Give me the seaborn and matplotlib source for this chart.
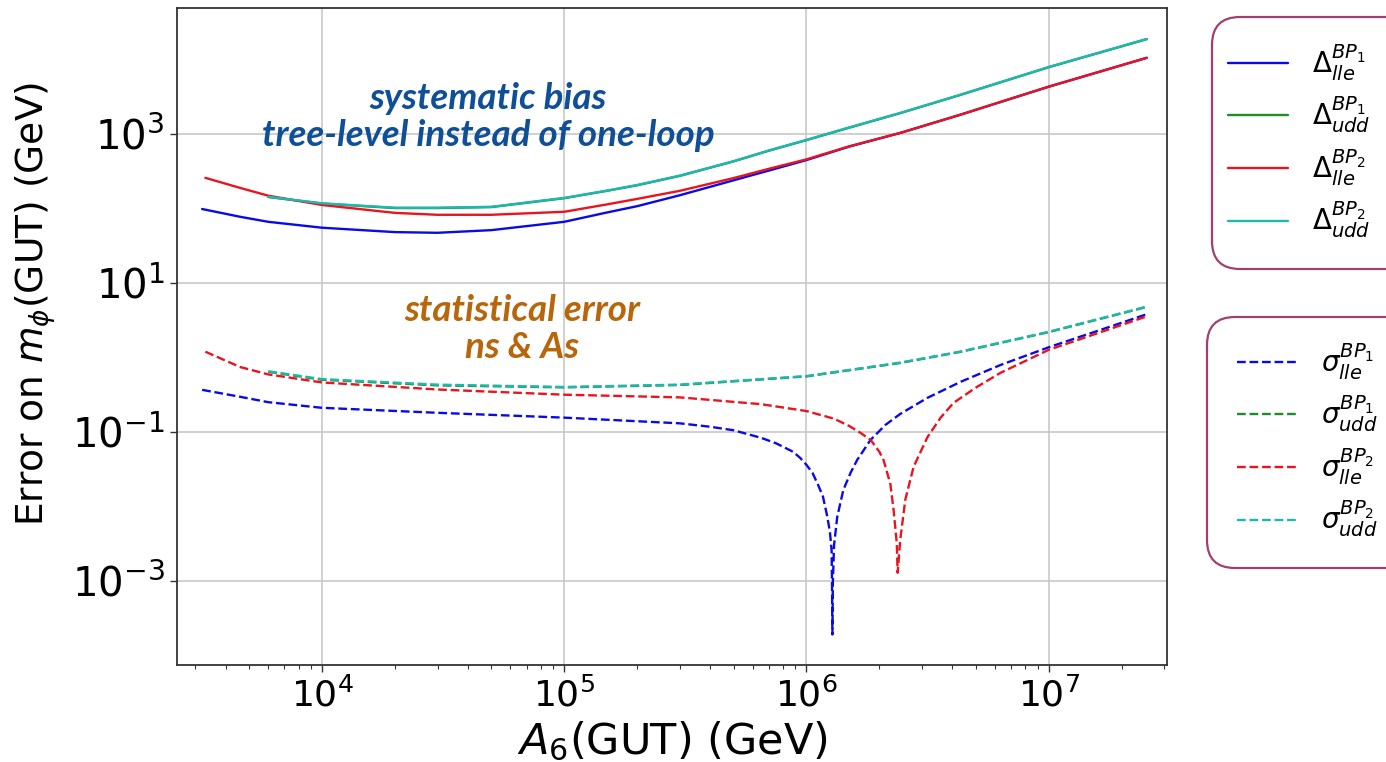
import numpy as np
import pandas as pd
import matplotlib
matplotlib.use("Agg")
import matplotlib.pyplot as plt
import matplotlib.ticker as mticker
from matplotlib.patches import FancyBboxPatch
from matplotlib.transforms import IdentityTransform
import seaborn as sns

# ---------------- data ----------------
# systematic bias (solid)
x_d_lle1 = [3.2e3, 4.6e3, 6e3, 1e4, 2e4, 3e4, 5e4, 1e5, 1.5e5, 2e5, 3e5, 5e5, 7e5, 1e6, 1.5e6,
            2.44e6, 4.3e6, 1e7, 2.54e7]
y_d_lle1 = [98, 77, 66, 55, 48, 47, 51, 66, 88, 107, 150, 238, 322, 445, 675,
            1030, 1800, 4300, 10500]

x_d_lle2 = [3.3e3, 4.6e3, 6e3, 1e4, 2e4, 3e4, 5e4, 1e5, 1.5e5, 2e5, 3e5, 5e5, 7e5, 1e6, 1.5e6,
            2.44e6, 4.3e6, 1e7, 2.54e7]
y_d_lle2 = [257, 188, 148, 111, 87, 82, 82, 90, 113, 134, 172, 255, 340, 455, 680,
            1030, 1800, 4300, 10500]

x_d_udd = [6e3, 1e4, 2e4, 3e4, 5e4, 1e5, 1.5e5, 2e5, 3e5, 5e5, 7e5, 1e6, 1.5e6, 2.44e6, 4.3e6,
           1e7, 2.54e7]
y_d_udd1 = [142, 116, 101, 101, 104, 137, 172, 204, 273, 427, 595, 825, 1210, 1900, 3320,
            7850, 18700]
y_d_udd2 = [143, 117, 102, 102, 105, 138, 173, 206, 275, 430, 600, 830, 1220, 1910, 3340,
            7900, 18800]

# statistical error (dashed)
x_s_lle1 = [3.2e3, 4.6e3, 6e3, 1e4, 3e4, 1e5, 3e5, 4e5, 5e5, 6.5e5, 7.5e5, 8.8e5, 9.4e5, 1.0e6,
            1.06e6, 1.12e6, 1.17e6, 1.22e6, 1.25e6, 1.27e6, 1.275e6, 1.28e6, 1.285e6, 1.3e6,
            1.34e6, 1.42e6, 1.52e6, 1.62e6, 1.84e6, 2.12e6, 2.44e6, 3.16e6, 4.33e6, 6.33e6,
            1.01e7, 1.64e7, 2.57e7]
y_s_lle1 = [0.366, 0.295, 0.25, 0.21, 0.18, 0.155, 0.13, 0.117, 0.105, 0.083, 0.07, 0.054, 0.045,
            0.036, 0.028, 0.019, 0.0135, 0.0072, 0.0045, 0.0026, 0.00094, 0.00019, 0.0009, 0.003,
            0.0072, 0.0166, 0.028, 0.042, 0.078, 0.124, 0.174, 0.286, 0.469, 0.79,
            1.38, 2.34, 3.84]

x_s_lle2 = [3.3e3, 4.6e3, 6e3, 1e4, 3e4, 1e5, 3e5, 6.5e5, 1e6, 1.3e6, 1.5e6, 1.67e6, 1.84e6,
            2.0e6, 2.08e6, 2.22e6, 2.29e6, 2.36e6, 2.38e6, 2.44e6, 2.56e6, 2.77e6, 3.16e6,
            3.58e6, 4.05e6, 4.99e6, 6.33e6, 1.0e7, 1.64e7, 2.57e7]
y_s_lle2 = [1.19, 0.74, 0.59, 0.46, 0.37, 0.315, 0.29, 0.235, 0.19, 0.15, 0.12, 0.097, 0.078,
            0.054, 0.042, 0.02, 0.0089, 0.0032, 0.00128, 0.0036, 0.0123, 0.034, 0.085,
            0.155, 0.245, 0.39, 0.62, 1.26, 2.18, 3.6]

x_s_udd = [6e3, 1e4, 3e4, 1e5, 3e5, 1e6, 2.44e6, 4.3e6, 1e7, 2.54e7]
y_s_udd1 = [0.64, 0.50, 0.42, 0.395, 0.425, 0.555, 0.84, 1.18, 2.18, 4.75]
y_s_udd2 = [0.65, 0.51, 0.43, 0.40, 0.43, 0.56, 0.85, 1.19, 2.2, 4.8]

delta_labels = [r'$\Delta_{lle}^{BP_1}$', r'$\Delta_{udd}^{BP_1}$',
                r'$\Delta_{lle}^{BP_2}$', r'$\Delta_{udd}^{BP_2}$']
sigma_labels = [r'$\sigma_{lle}^{BP_1}$', r'$\sigma_{udd}^{BP_1}$',
                r'$\sigma_{lle}^{BP_2}$', r'$\sigma_{udd}^{BP_2}$']
colors = ['#0a0ae6', '#1e8c28', '#e8141e', '#1fb8b0']

# ---------------- figure ----------------
sns.set_theme(style="whitegrid")
plt.rcParams['font.family'] = ['DejaVu Sans']
plt.rcParams['mathtext.fontset'] = 'dejavusans'
for k in ['text.color', 'axes.labelcolor', 'xtick.color', 'ytick.color']:
    plt.rcParams[k] = 'black'

fig = plt.figure(figsize=(13.86, 7.62), dpi=100)
ax = fig.add_axes([0.1277, 0.1273, 0.7143, 0.8622])

solid = [(x_d_lle1, y_d_lle1), (x_d_udd, y_d_udd1), (x_d_lle2, y_d_lle2), (x_d_udd, y_d_udd2)]
dashed = [(x_s_lle1, y_s_lle1), (x_s_udd, y_s_udd1), (x_s_lle2, y_s_lle2), (x_s_udd, y_s_udd2)]

solid_handles = []
for (xs, ys), c, lab in zip(solid, colors, delta_labels):
    sns.lineplot(x=xs, y=ys, ax=ax, color=c, lw=1.7, label=lab, legend=False)
    solid_handles.append(ax.get_lines()[-1])
dashed_handles = []
for (xs, ys), c, lab in zip(dashed, colors, sigma_labels):
    sns.lineplot(x=xs, y=ys, ax=ax, color=c, lw=1.7, linestyle='--', label=lab, legend=False)
    dashed_handles.append(ax.get_lines()[-1])

ax.set_xscale('log')
ax.set_yscale('log')
ax.set_xlim(2.52e3, 3.08e7)
ax.set_ylim(7.4e-5, 4.9e4)
ax.set_yticks([1e-3, 1e-1, 1e1, 1e3])
ax.yaxis.set_minor_locator(mticker.NullLocator())
ax.xaxis.set_major_locator(mticker.LogLocator(base=10, numticks=12))
ax.xaxis.set_minor_locator(mticker.LogLocator(base=10, subs=np.arange(2, 10), numticks=12))
ax.xaxis.set_minor_formatter(mticker.NullFormatter())

ax.grid(True, which='major', color='#c4c4c4', lw=1.1)
ax.grid(False, which='minor')
for s in ax.spines.values():
    s.set_color('#333333')
    s.set_linewidth(1.3)
ax.tick_params(axis='both', which='major', length=5, width=1, color='#333333',
               bottom=True, left=True, pad=4)
ax.tick_params(axis='x', which='major', labelsize=26)
ax.tick_params(axis='y', which='major', labelsize=29)
ax.tick_params(axis='x', which='minor', length=3, width=0.8, color='#333333', bottom=True)

ax.set_xlabel(r'$A_6$(GUT) (GeV)', fontsize=31)
ax.set_ylabel(r'Error on $m_\phi$(GUT) (GeV)', fontsize=27)
ax.xaxis.set_label_coords(0.5, -0.083)
ax.yaxis.set_label_coords(-0.12, 0.55)

ax.text(0.314, 0.834, 'systematic bias\ntree-level instead of one-loop', transform=ax.transAxes,
        ha='center', va='center', fontsize=26.5, fontfamily='Lato', fontweight='bold',
        fontstyle='italic', color='#0f4f97', linespacing=1.15)
ax.text(0.3485, 0.511, 'statistical error\nns & As', transform=ax.transAxes,
        ha='center', va='center', fontsize=26.5, fontfamily='Lato', fontweight='bold',
        fontstyle='italic', color='#b8660b', linespacing=1.15)

# legends outside the axes
leg_kw = dict(loc='center left', frameon=False, fontsize=20, handlelength=2.16,
              handletextpad=0.86, labelspacing=0.42, borderpad=0, borderaxespad=0)
leg1 = fig.legend(handles=solid_handles, labels=delta_labels,
                  bbox_to_anchor=(1228 / 1386, 1 - 141 / 762), **leg_kw)
leg2 = fig.legend(handles=dashed_handles, labels=sigma_labels,
                  bbox_to_anchor=(1237 / 1386, 1 - 440 / 762), **leg_kw)

H = 762
for (x0, ytop, ybot) in [(1212, 17, 269), (1207, 317, 568)]:
    box = FancyBboxPatch((x0, H - ybot), 1430 - x0, ybot - ytop,
                         boxstyle='round,pad=0,rounding_size=28',
                         transform=IdentityTransform(), fill=False,
                         edgecolor='#a0406e', linewidth=1.6, clip_on=False)
    fig.patches.append(box)

fig.savefig('out.png', dpi=100)
